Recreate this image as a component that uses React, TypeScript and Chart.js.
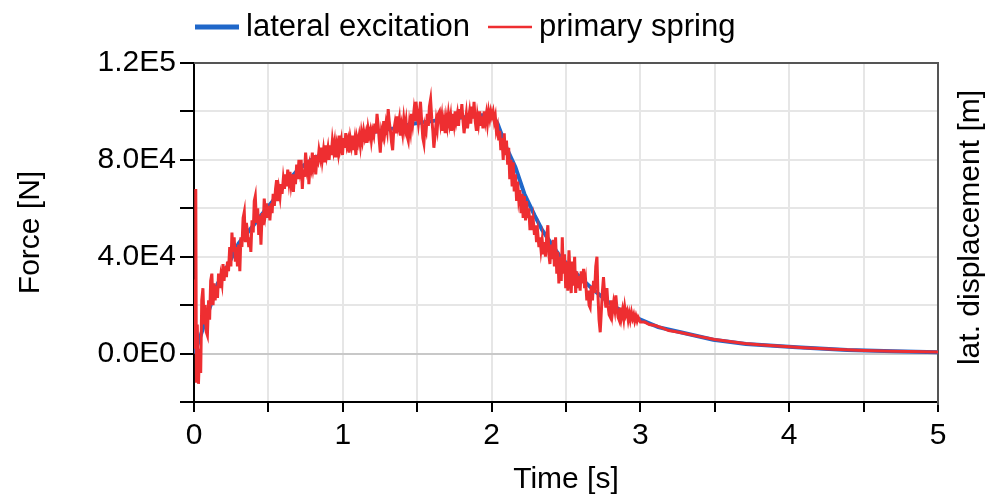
import React, { useEffect, useRef } from 'react';
import { Chart, registerables } from 'chart.js';

Chart.register(...registerables);

// ---------- data ----------
const excitationTime = [0, 0.02, 0.04, 0.1, 0.16, 0.2, 0.3, 0.4, 0.45, 0.53, 0.6, 0.7, 0.8, 0.87, 1.0, 1.09, 1.16, 1.34, 1.48, 1.6, 1.7, 1.8, 1.95, 2.0, 2.04, 2.1, 2.16, 2.22, 2.29, 2.34, 2.46, 2.57, 2.62, 2.69, 2.82, 2.91, 3.04, 3.12, 3.27, 3.49, 3.71, 4.05, 4.39, 4.7, 5.0];
const excitationForce = [0, 3000, 6600, 17800, 29000, 33000, 45500, 53000, 57000, 63000, 69000, 76000, 80500, 82500, 87000, 89000, 91000, 93000, 95000, 96000, 97000, 97500, 98500, 99000, 95000, 85000, 77000, 66000, 57000, 51000, 40000, 33000, 30000, 26000, 19500, 16400, 13000, 10900, 8800, 5700, 4000, 2600, 1500, 1000, 500];

const springTime = [
  0, 0.008, 0.012, 0.016, 0.022, 0.03, 0.038, 0.045, 0.052, 0.06, 0.068, 0.075, 0.082, 0.09, 0.098,
  0.105, 0.112, 0.12, 0.128, 0.135, 0.142, 0.15, 0.158, 0.165, 0.172, 0.18, 0.188, 0.195,
  0.202, 0.21, 0.218, 0.225, 0.232, 0.24, 0.248, 0.255, 0.262, 0.27, 0.278, 0.285, 0.292, 0.3,
  0.308, 0.315, 0.322, 0.33, 0.338, 0.345, 0.352, 0.36, 0.368, 0.375, 0.382, 0.39, 0.398,
  0.405, 0.412, 0.42, 0.428, 0.435, 0.442, 0.45, 0.458, 0.465, 0.472, 0.48, 0.488, 0.495,
  0.502, 0.51, 0.518, 0.525, 0.532, 0.54, 0.548, 0.555, 0.562, 0.57, 0.578, 0.585, 0.592, 0.6,
  0.608, 0.615, 0.622, 0.63, 0.638, 0.645, 0.652, 0.66, 0.668, 0.675, 0.682, 0.69, 0.698,
  0.705, 0.712, 0.72, 0.728, 0.735, 0.742, 0.75, 0.758, 0.765, 0.772, 0.78, 0.788, 0.795,
  0.802, 0.81, 0.818, 0.825, 0.832, 0.84, 0.848, 0.855, 0.862, 0.87, 0.878, 0.885, 0.892, 0.9,
  0.908, 0.915, 0.922, 0.93, 0.938, 0.945, 0.952, 0.96, 0.968, 0.975, 0.982, 0.99, 0.998,
  1.005, 1.012, 1.02, 1.028, 1.035, 1.042, 1.05, 1.058, 1.065, 1.072, 1.08, 1.088, 1.095,
  1.102, 1.11, 1.118, 1.125, 1.132, 1.14, 1.148, 1.155, 1.162, 1.17, 1.178, 1.185, 1.192, 1.2,
  1.208, 1.215, 1.222, 1.23, 1.238, 1.245, 1.252, 1.26, 1.268, 1.275, 1.282, 1.29, 1.298,
  1.305, 1.312, 1.32, 1.328, 1.335, 1.342, 1.35, 1.358, 1.365, 1.372, 1.38, 1.388, 1.395,
  1.402, 1.41, 1.418, 1.425, 1.432, 1.44, 1.448, 1.455, 1.462, 1.47, 1.478, 1.485, 1.492, 1.5,
  1.508, 1.515, 1.522, 1.53, 1.538, 1.545, 1.552, 1.56, 1.568, 1.575, 1.582, 1.59, 1.598,
  1.605, 1.612, 1.62, 1.628, 1.635, 1.642, 1.65, 1.658, 1.665, 1.672, 1.68, 1.688, 1.695,
  1.702, 1.71, 1.718, 1.725, 1.732, 1.74, 1.748, 1.755, 1.762, 1.77, 1.778, 1.785, 1.792, 1.8,
  1.808, 1.815, 1.822, 1.83, 1.838, 1.845, 1.852, 1.86, 1.868, 1.875, 1.882, 1.89, 1.898,
  1.905, 1.912, 1.92, 1.928, 1.935, 1.942, 1.95, 1.958, 1.965, 1.972, 1.98, 1.988, 1.995,
  2.002, 2.01, 2.018, 2.025, 2.032, 2.04, 2.048, 2.055, 2.062, 2.07, 2.078, 2.085, 2.092, 2.1,
  2.108, 2.115, 2.122, 2.13, 2.138, 2.145, 2.152, 2.16, 2.168, 2.175, 2.182, 2.19, 2.198,
  2.205, 2.212, 2.22, 2.228, 2.235, 2.242, 2.25, 2.258, 2.265, 2.272, 2.28, 2.288, 2.295,
  2.302, 2.31, 2.318, 2.325, 2.332, 2.34, 2.348, 2.355, 2.362, 2.37, 2.378, 2.385, 2.392, 2.4,
  2.408, 2.415, 2.422, 2.43, 2.438, 2.445, 2.452, 2.46, 2.468, 2.475, 2.482, 2.49, 2.498,
  2.505, 2.512, 2.52, 2.528, 2.535, 2.542, 2.55, 2.558, 2.565, 2.572, 2.58, 2.588, 2.595,
  2.602, 2.61, 2.618, 2.625, 2.632, 2.64, 2.648, 2.655, 2.662, 2.67, 2.678, 2.685, 2.692, 2.7,
  2.708, 2.715, 2.722, 2.73, 2.738, 2.745, 2.752, 2.76, 2.768, 2.775, 2.782, 2.79, 2.798,
  2.805, 2.812, 2.82, 2.828, 2.835, 2.842, 2.85, 2.858, 2.865, 2.872, 2.88, 2.888, 2.895,
  2.902, 2.91, 2.918, 2.925, 2.932, 2.94, 2.948, 2.955, 2.962, 2.97, 2.978, 2.985, 3.0,
  3.03, 3.06, 3.1, 3.15, 3.19, 3.25, 3.3, 3.4, 3.5, 3.6, 3.7, 3.8, 3.9, 4.0, 4.1, 4.3, 4.5, 4.7, 5.0,
];
const springForce = [
  2000, 30000, 68000, -12000, 12000, -12500, 2000, -8000, 22000, 27000, 12000, 20000, 9000, 7500, 22000,
  14000, 30000, 33000, 20000, 29000, 22000, 28000, 23000, 33000, 27000, 32000, 29000, 37000,
  30000, 36000, 31600, 38000, 34000, 44000, 36000, 50000, 42000, 48000, 38000, 44000, 36000, 45000,
  34000, 48000, 44000, 56000, 58500, 46000, 54000, 50000, 44000, 48000, 42000, 55000, 50000,
  63000, 65000, 54000, 60000, 49000, 57000, 45000, 58000, 53000, 64000, 58000, 62000, 56000,
  61000, 55000, 62000, 58000, 66000, 61000, 68000, 71600, 63000, 68000, 64700, 70000, 66000, 72000,
  68000, 74000, 69000, 76000, 71000, 75000, 70000, 74000, 66800, 74000, 70000, 78000, 72000,
  80000, 76000, 80000, 68000, 76000, 73000, 83000, 77000, 80000, 70000, 78000, 76000, 83000,
  78000, 82000, 74000, 80000, 79000, 84000, 81000, 85000, 80000, 84000, 79000, 86000, 82000, 85000,
  80000, 86000, 82000, 88000, 84000, 87000, 81000, 86000, 83000, 90000, 85000, 88000, 82000,
  89000, 85000, 91000, 86000, 88000, 83000, 89000, 86000, 90000, 84000, 88000, 82000, 89000,
  87000, 90000, 86000, 91000, 88000, 92000, 89000, 91000, 87000, 93000, 90000, 92000, 88000, 92000,
  90000, 95000, 91000, 99000, 94000, 88000, 83000, 92000, 90000, 96000, 91000, 95000, 92000,
  101000, 96000, 92000, 87000, 84000, 92000, 95000, 91000, 98000, 94000, 97000, 90000, 94000,
  91000, 97000, 93000, 96000, 90000, 88000, 95000, 92000, 99000, 95000, 100000, 96000, 104000, 99000,
  95000, 99000, 104000, 96000, 89000, 86800, 94000, 92000, 99000, 94000, 102000, 105000, 97000,
  92000, 85000, 90000, 96000, 93000, 99000, 100000, 95000, 98000, 92000, 96000, 91000, 97000,
  94000, 99000, 95000, 98000, 92000, 99000, 95000, 100000, 96000, 99000, 94000, 101000, 97000, 103000,
  96000, 91000, 95000, 99000, 93000, 97000, 100000, 95000, 102000, 97000, 104000, 96000, 92000,
  98000, 95000, 100000, 94000, 98000, 93000, 100000, 96000, 99000, 95000, 100000, 97000, 100000,
  98000, 100000, 96000, 98000, 92000, 94000, 88000, 92000, 84000, 89000, 80000, 91000, 82000, 88000,
  78000, 85000, 72000, 80000, 69000, 79000, 67000, 74000, 63000, 71000, 64000, 67500, 58000,
  66000, 56000, 65000, 55000, 63000, 56000, 60000, 51000, 57000, 51000, 55000, 49000, 53000,
  46000, 50000, 44000, 48000, 43000, 47000, 41000, 46000, 40000, 48000, 53000, 41000, 37000, 45000,
  39000, 47000, 36000, 48000, 33000, 42000, 29000, 40000, 30000, 48000, 33000, 41000, 27000,
  38000, 26000, 42600, 31000, 25000, 38000, 28000, 40000, 25000, 34000, 27000, 32000, 26000,
  34000, 29000, 35000, 27000, 30000, 22000, 26000, 20000, 19000, 28000, 22000, 30000, 25000, 36000,
  40000, 24000, 14000, 8800, 18000, 26000, 31600, 24000, 19000, 27000, 20000, 16000, 15000,
  22000, 17000, 21000, 18000, 24000, 19000, 15000, 13700, 19000, 15000, 18000, 14500, 19000,
  16000, 17500, 14000, 16500, 14000, 17000, 14500, 16000, 13500, 15500, 13500, 15000, 13000,
  13000, 12000, 11600, 10500, 9500, 8900, 8300, 7000, 5800, 5000, 4200, 3600, 3200, 2800, 2400, 1800, 1300, 1000, 600,
];

const seriesLabels = ['lateral excitation', 'primary spring'];
const seriesColors = ['#1f67c9', '#ee2e31'];
const xLabelValues = [0, 1, 2, 3, 4, 5];
const yLabelValues = [0, 40000, 80000, 120000];
const xTitle = 'Time [s]';
const yTitle = 'Force [N]';
const y2Title = 'lat. displacement [m]';

const FONT = '"Liberation Sans", Arial, sans-serif';

function sci(v: number): string {
  if (v === 0) return '0.0E0';
  const e = Math.floor(Math.log10(Math.abs(v)));
  const m = v / Math.pow(10, e);
  return m.toFixed(1) + 'E' + e;
}

const framePlugin = {
  id: 'frame',
  beforeDatasetsDraw(chart: any) {
    const { ctx, chartArea } = chart;
    ctx.save();
    ctx.strokeStyle = '#555555';
    ctx.lineWidth = 2;
    ctx.beginPath();
    ctx.moveTo(chartArea.left, chartArea.top);
    ctx.lineTo(chartArea.right, chartArea.top);
    ctx.lineTo(chartArea.right, chartArea.bottom + 3);
    ctx.stroke();
    ctx.restore();
  },
};

const lineLegendPlugin = {
  id: 'lineLegend',
  afterDraw(chart: any) {
    const { ctx, chartArea } = chart;
    const y = 27;
    let x = chartArea.left + 1;
    ctx.save();
    ctx.font = '31px ' + FONT;
    ctx.textBaseline = 'middle';
    ctx.textAlign = 'left';
    chart.data.datasets.forEach((ds: any) => {
      ctx.strokeStyle = ds.borderColor;
      ctx.lineWidth = ds.legendWidth;
      ctx.beginPath();
      ctx.moveTo(x, y);
      ctx.lineTo(x + 44, y);
      ctx.stroke();
      x += 51;
      ctx.fillStyle = '#000';
      ctx.fillText(ds.label, x, y);
      x += ctx.measureText(ds.label).width + 18;
    });
    ctx.restore();
  },
};

const rightTitlePlugin = {
  id: 'rightTitle',
  afterDraw(chart: any) {
    const { ctx, chartArea } = chart;
    const s = chart.scales.y2;
    ctx.save();
    ctx.font = '30px ' + FONT;
    ctx.fillStyle = '#000';
    ctx.textAlign = 'center';
    ctx.textBaseline = 'middle';
    ctx.translate(s.right - 17, (chartArea.top + chartArea.bottom) / 2 - 5);
    ctx.rotate(-Math.PI / 2);
    ctx.fillText(y2Title, 0, 0);
    ctx.restore();
  },
};

export default function App() {
  const ref = useRef<HTMLCanvasElement>(null);
  useEffect(() => {
    document.body.style.margin = '0';
    Chart.defaults.font.family = FONT;
    Chart.defaults.color = '#000';
    const excitation = excitationTime.map((t, i) => ({ x: t, y: excitationForce[i] }));
    const spring = springTime.map((t, i) => ({ x: t, y: springForce[i] }));
    const chart = new Chart(ref.current as HTMLCanvasElement, {
      type: 'line',
      data: {
        datasets: [
          {
            label: seriesLabels[0],
            data: excitation,
            borderColor: seriesColors[0],
            backgroundColor: seriesColors[0],
            borderWidth: 4,
            legendWidth: 5,
            pointRadius: 0,
            tension: 0,
            order: 2,
          } as any,
          {
            label: seriesLabels[1],
            data: spring,
            borderColor: seriesColors[1],
            backgroundColor: seriesColors[1],
            borderWidth: 3,
            legendWidth: 2.5,
            pointRadius: 0,
            tension: 0,
            order: 1,
          } as any,
        ],
      },
      options: {
        animation: false,
        responsive: false,
        events: [],
        layout: { padding: { top: 63, left: 0, right: 0, bottom: 0 } },
        plugins: { legend: { display: false }, tooltip: { enabled: false }, title: { display: false } },
        scales: {
          x: {
            type: 'linear',
            min: 0,
            max: 5,
            afterFit: (s: any) => { s.height = 96; },
            ticks: {
              stepSize: 0.5,
              autoSkip: false,
              maxRotation: 0,
              padding: 6,
              font: { size: 30 },
              color: '#000',
              callback: (v: any) => (xLabelValues.includes(Number(v)) ? String(v) : ''),
            },
            grid: { color: '#e6e6e6', lineWidth: 2, tickColor: '#000', tickLength: 10, tickWidth: 2 },
            border: { color: '#000', width: 2 },
            title: { display: true, text: xTitle, font: { size: 30 }, color: '#000', padding: { top: 0, bottom: 0 } },
          },
          y: {
            type: 'linear',
            position: 'left',
            min: -20000,
            max: 120000,
            afterFit: (s: any) => { s.width = 194; },
            ticks: {
              stepSize: 20000,
              autoSkip: false,
              padding: 4,
              font: { size: 30 },
              color: '#000',
              callback: (v: any) => (yLabelValues.includes(Number(v)) ? sci(Number(v)) : ''),
            },
            grid: {
              color: (c: any) => (c.tick && c.tick.value === 0 ? '#c8c8c8' : '#e6e6e6'),
              lineWidth: 2,
              tickColor: '#000',
              tickLength: 14,
              tickWidth: 2,
            },
            border: { color: '#000', width: 2 },
            title: { display: true, text: yTitle, font: { size: 30 }, color: '#000', padding: { top: 13, bottom: 0 } },
          },
          y2: {
            type: 'linear',
            position: 'right',
            afterFit: (s: any) => { s.width = 50; },
            ticks: { display: false },
            grid: { drawOnChartArea: false, drawTicks: false },
            border: { display: false },
            title: { display: false, text: y2Title },
          },
        },
      } as any,
      plugins: [framePlugin, lineLegendPlugin, rightTitlePlugin],
    });
    return () => chart.destroy();
  }, []);
  return (
    <div style={{ width: 988, height: 498 }}>
      <canvas ref={ref} width={988} height={498} style={{ display: 'block' }} />
    </div>
  );
}
